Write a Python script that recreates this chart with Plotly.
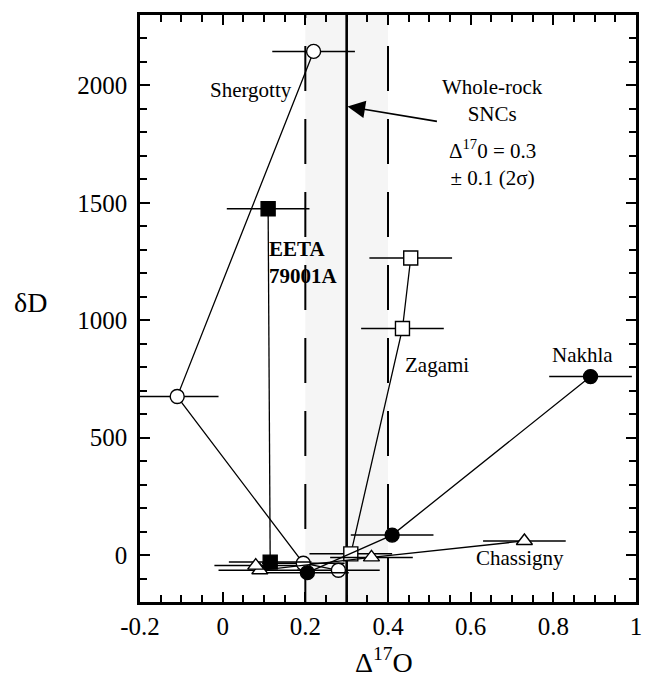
import plotly.graph_objects as go

# Oxygen (Δ17O) vs hydrogen (δD) isotope compositions of SNC meteorite separates
shergotty_x = [0.22, -0.11, 0.195, 0.28]
shergotty_y = [2145, 675, -35, -65]

eeta_x = [0.11, 0.115]
eeta_y = [1475, -30]

nakhla_x = [0.89, 0.41, 0.205]
nakhla_y = [760, 85, -75]

zagami_x = [0.455, 0.435, 0.31]
zagami_y = [1265, 965, 5]

chassigny_x = [0.73, 0.36, 0.09, 0.08]
chassigny_y = [60, -10, -65, -45]

x_err = 0.1  # ± uncertainty on Δ17O

# Whole-rock SNC band: 0.3 ± 0.1 (2σ)
band_center = 0.3
band_half = 0.1

x_ticks = [-0.2, 0, 0.2, 0.4, 0.6, 0.8, 1]
x_tick_text = ["-0.2", "0", "0.2", "0.4", "0.6", "0.8", "1"]
y_ticks = [0, 500, 1000, 1500, 2000]

FONT = "Liberation Serif, Times New Roman, serif"

fig = go.Figure()


def add_series(name, xs, ys, symbol, filled):
    fig.add_trace(go.Scatter(
        x=xs, y=ys, name=name, mode="lines+markers",
        line=dict(color="black", width=1.3),
        marker=dict(symbol=symbol, size=14,
                    color="black" if filled else "white",
                    line=dict(color="black", width=1.4)),
        error_x=dict(type="constant", value=x_err, color="black",
                     thickness=1.5, width=0),
        showlegend=False,
    ))


add_series("Shergotty", shergotty_x, shergotty_y, "circle", False)
add_series("EETA 79001A", eeta_x, eeta_y, "square", True)
add_series("Zagami", zagami_x, zagami_y, "square", False)
add_series("Chassigny", chassigny_x, chassigny_y, "triangle-up", False)
add_series("Nakhla", nakhla_x, nakhla_y, "circle", True)

# shaded ±2σ band with dashed bounds and solid mean line
fig.add_shape(type="rect", xref="x", yref="paper",
              x0=band_center - band_half, x1=band_center + band_half,
              y0=0, y1=1, fillcolor="#f5f5f5", line=dict(width=0),
              layer="below")
for xv in (band_center - band_half, band_center + band_half):
    fig.add_shape(type="line", xref="x", yref="paper", x0=xv, x1=xv,
                  y0=0, y1=1, line=dict(color="black", width=2,
                                        dash="45px,28px"),
                  layer="below")
fig.add_shape(type="line", xref="x", yref="paper", x0=band_center,
              x1=band_center, y0=0, y1=1,
              line=dict(color="black", width=2.6), layer="below")

label_font = dict(family=FONT, size=21, color="black")

fig.add_annotation(x=0.069, y=1982, text="Shergotty", showarrow=False,
                   font=label_font)
fig.add_annotation(x=0.108, y=1245, text="<b>EETA<br>79001A</b>",
                   showarrow=False, xanchor="left", align="left",
                   font=label_font)
fig.add_annotation(x=0.436, y=809, text="Zagami", showarrow=False,
                   xanchor="left", font=label_font)
fig.add_annotation(x=0.87, y=852, text="Nakhla", showarrow=False,
                   font=label_font)
fig.add_annotation(x=0.719, y=-14, text="Chassigny", showarrow=False,
                   font=label_font)

fig.add_annotation(x=0.654, y=1935,
                   text="Whole-rock<br>SNCs",
                   showarrow=False, font=label_font)
fig.add_annotation(x=0.654, y=1670,
                   text="Δ<sup>17</sup>0 = 0.3<br>± 0.1 (2σ)",
                   showarrow=False, font=label_font)

# arrow pointing at the whole-rock mean line
fig.add_annotation(x=0.302, y=1910, ax=0.522, ay=1846, xref="x", yref="y",
                   axref="x", ayref="y", text="", showarrow=True,
                   arrowhead=2, arrowsize=2.2, arrowwidth=1.6,
                   arrowcolor="black", standoff=0)

# axis titles
fig.add_annotation(xref="paper", yref="paper", x=-0.22, y=0.51,
                   xanchor="center", yanchor="middle",
                   text="δD", showarrow=False,
                   font=dict(family=FONT, size=28, color="black"))
fig.add_annotation(xref="paper", yref="paper", x=0.492, y=-0.1,
                   xanchor="center", yanchor="middle",
                   text="Δ<sup>17</sup>O", showarrow=False,
                   font=dict(family=FONT, size=28, color="black"))

axis_common = dict(
    showline=True, linecolor="black", linewidth=2.5, mirror="ticks",
    ticks="inside", ticklen=10, tickwidth=2, tickcolor="black",
    showgrid=False, zeroline=False,
    tickfont=dict(family=FONT, size=25, color="black"),
)

fig.update_xaxes(range=[-0.2, 1.0], tickmode="array", tickvals=x_ticks,
                 ticktext=x_tick_text, ticklabelstandoff=0,
                 minor=dict(dtick=0.05, tick0=0, ticks="inside", ticklen=7,
                            tickwidth=2, tickcolor="black"),
                 **axis_common)
fig.update_yaxes(range=[-200, 2300], tickmode="array", tickvals=y_ticks,
                 ticklabelstandoff=5,
                 minor=dict(dtick=100, tick0=0, ticks="inside", ticklen=7,
                            tickwidth=2, tickcolor="black"),
                 **axis_common)

fig.update_layout(
    width=646, height=682,
    margin=dict(l=140, r=4, t=15, b=80),
    plot_bgcolor="white", paper_bgcolor="white",
    font=dict(family=FONT, color="black"),
)

fig.write_html("out.html")
